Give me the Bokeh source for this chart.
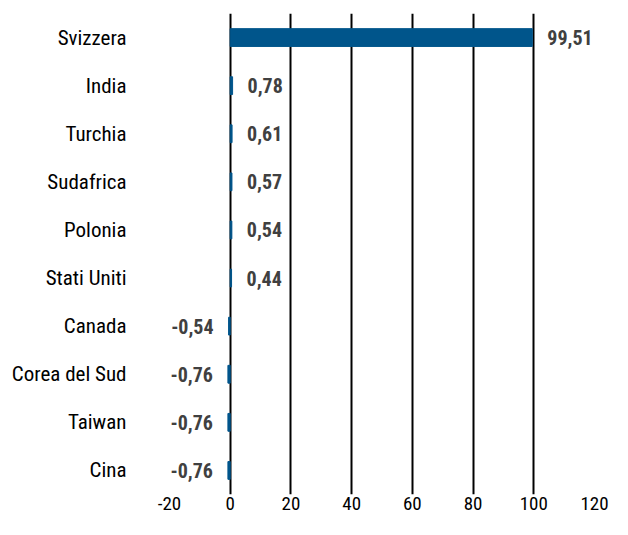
from bokeh.plotting import figure
from bokeh.models import ColumnDataSource, Range1d, FactorRange, FixedTicker
from bokeh.embed import file_html
from bokeh.resources import INLINE
from bokeh.core.properties import value

countries = ["Svizzera", "India", "Turchia", "Sudafrica", "Polonia", "Stati Uniti",
             "Canada", "Corea del Sud", "Taiwan", "Cina"]
values = [99.51, 0.78, 0.61, 0.57, 0.54, 0.44, -0.54, -0.76, -0.76, -0.76]
x_ticks = [-20, 0, 20, 40, 60, 80, 100, 120]

FONT = "'Liberation Sans Narrow', 'Arial Narrow', 'Roboto Condensed', sans-serif"

labels = [f"{v:.2f}".replace(".", ",") for v in values]
pos = [v >= 0 for v in values]

src_pos = ColumnDataSource(dict(
    y=[c for c, p in zip(countries, pos) if p],
    x=[v for v, p in zip(values, pos) if p],
    t=[l for l, p in zip(labels, pos) if p]))
src_neg = ColumnDataSource(dict(
    y=[c for c, p in zip(countries, pos) if not p],
    x=[v for v, p in zip(values, pos) if not p],
    t=[l for l, p in zip(labels, pos) if not p]))
src = ColumnDataSource(dict(y=countries, x=values))

p = figure(width=612, height=519, output_backend="svg", toolbar_location=None,
           x_range=Range1d(x_ticks[0], x_ticks[-1]),
           y_range=FactorRange(*countries[::-1], range_padding=0),
           min_border_left=169, min_border_right=18, min_border_top=13, min_border_bottom=25)
p.outline_line_color = None

p.hbar(y="y", right="x", left=0, height=0.37, source=src, color="#00558B")

p.text(x="x", y="y", text="t", source=src_pos, x_offset=15, text_align="left",
       text_baseline="middle", text_font=value(FONT), text_font_size="20px",
       text_font_style="bold", text_color="#404040")
p.text(x="x", y="y", text="t", source=src_neg, x_offset=-15, text_align="right",
       text_baseline="middle", text_font=value(FONT), text_font_size="20px",
       text_font_style="bold", text_color="#404040")

p.xgrid.ticker = FixedTicker(ticks=x_ticks)
p.xgrid.grid_line_color = "black"
p.xgrid.grid_line_width = 2
p.ygrid.grid_line_color = None

p.xaxis.ticker = FixedTicker(ticks=x_ticks)
p.xaxis.major_label_overrides = {t: str(t) for t in x_ticks}
p.xaxis.axis_line_color = None
p.xaxis.major_tick_line_color = None
p.xaxis.minor_tick_line_color = None
p.xaxis.major_tick_out = 0
p.xaxis.major_label_standoff = 2
p.xaxis.major_label_text_font = FONT
p.xaxis.major_label_text_font_size = "19px"
p.xaxis.major_label_text_color = "black"

p.yaxis.axis_line_color = None
p.yaxis.major_tick_line_color = None
p.yaxis.major_tick_out = 0
p.yaxis.major_label_standoff = 43
p.yaxis.major_label_text_font = FONT
p.yaxis.major_label_text_font_size = "21px"
p.yaxis.major_label_text_color = "black"

open("out.html", "w").write(file_html(p, INLINE))
